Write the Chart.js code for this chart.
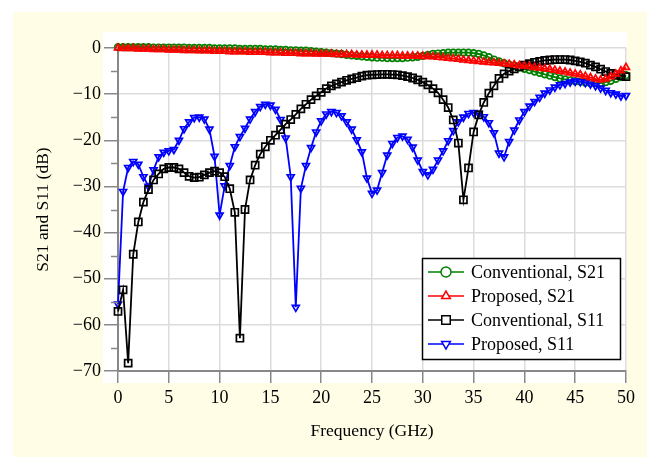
<!DOCTYPE html>
<html>
<head>
<meta charset="utf-8">
<script src="https://cdn.jsdelivr.net/npm/chart.js@4.4.0/dist/chart.umd.min.js"></script>
<style>
  html, body { margin: 0; padding: 0; background: #fff; }
  #wrap { width: 647px; height: 457px; }
</style>
</head>
<body>
<div id="wrap"><canvas id="sChart" width="647" height="457"></canvas></div>
<script>
// sweep 0 - 50 GHz, 0.5 GHz step
const freqGHz = Array.from({ length: 101 }, (_, i) => i * 0.5);

const convS21 = [
    0.2, 0.2, 0.2, 0.2, 0.2, 0.2, 0.2, 0.1, 0.1, 0.1,
    0.1, 0.1, 0.1, 0.1, 0.0, 0.0, 0.0, 0.0, 0.0, -0.1,
    -0.1, -0.1, -0.1, -0.1, -0.2, -0.2, -0.2, -0.2, -0.2, -0.3,
    -0.3, -0.3, -0.4, -0.4, -0.5, -0.5, -0.6, -0.6, -0.7, -0.8,
    -0.9, -1.0, -1.1, -1.2, -1.3, -1.5, -1.6, -1.7, -1.8, -1.9,
    -2.0, -2.1, -2.1, -2.2, -2.2, -2.2, -2.2, -2.1, -2.0, -1.9,
    -1.7, -1.5, -1.3, -1.2, -1.1, -1.0, -1.0, -1.0, -1.0, -1.0,
    -1.1, -1.3, -1.6, -2.0, -2.5, -2.9, -3.3, -3.6, -3.9, -4.2,
    -4.5, -4.8, -5.1, -5.4, -5.7, -6.0, -6.3, -6.6, -6.8, -7.0,
    -7.2, -7.3, -7.5, -7.6, -7.6, -7.6, -7.4, -7.1, -6.7, -6.3,
    -5.9
];

const propS21 = [
    0.0, -0.1, -0.1, -0.1, -0.2, -0.2, -0.2, -0.3, -0.3, -0.3,
    -0.4, -0.4, -0.4, -0.5, -0.5, -0.5, -0.6, -0.6, -0.6, -0.7,
    -0.7, -0.7, -0.8, -0.8, -0.8, -0.8, -0.9, -0.9, -0.9, -0.9,
    -1.0, -1.0, -1.0, -1.1, -1.1, -1.1, -1.2, -1.2, -1.2, -1.3,
    -1.3, -1.3, -1.3, -1.4, -1.4, -1.4, -1.4, -1.5, -1.5, -1.5,
    -1.5, -1.5, -1.6, -1.6, -1.6, -1.6, -1.7, -1.7, -1.7, -1.7,
    -1.8, -1.8, -1.9, -2.0, -2.1, -2.2, -2.3, -2.4, -2.6, -2.7,
    -2.8, -2.9, -3.0, -3.1, -3.2, -3.3, -3.4, -3.5, -3.6, -3.8,
    -3.9, -4.0, -4.2, -4.3, -4.5, -4.6, -4.8, -5.0, -5.2, -5.4,
    -5.6, -5.8, -6.1, -6.4, -6.7, -6.9, -6.7, -6.2, -5.6, -4.9,
    -4.2
];

const convS11 = [
    -57.1, -52.4, -68.3, -44.7, -37.7, -33.4, -30.7, -28.6, -27.3, -26.2,
    -25.9, -25.9, -26.2, -27.0, -27.8, -28.1, -28.0, -27.5, -27.0, -26.7,
    -27.0, -27.9, -30.5, -35.6, -62.9, -35.0, -28.6, -25.4, -23.0, -21.4,
    -20.0, -18.9, -17.7, -16.5, -15.5, -14.4, -13.2, -12.2, -11.2, -10.4,
    -9.6, -8.8, -8.2, -7.8, -7.4, -7.0, -6.7, -6.4, -6.1, -5.9,
    -5.8, -5.75, -5.7, -5.7, -5.75, -5.8, -6.0, -6.2, -6.5, -6.9,
    -7.4, -8.0, -8.8, -9.7, -11.2, -12.9, -15.6, -20.6, -32.9, -26.0,
    -18.2, -14.5, -11.8, -9.8, -8.2, -6.6, -5.6, -5.0, -4.5, -4.1,
    -3.7, -3.4, -3.1, -2.9, -2.7, -2.6, -2.5, -2.5, -2.5, -2.6,
    -2.8, -3.0, -3.3, -3.7, -4.1, -4.6, -5.1, -5.5, -5.8, -6.0,
    -6.2
];

const propS11 = [
    -55.5, -31.1, -25.9, -24.6, -25.2, -27.9, -30.0, -26.4, -23.6, -22.6,
    -22.3, -22.0, -20.0, -17.5, -16.0, -15.1, -15.0, -15.4, -17.6, -23.5,
    -36.2, -29.9, -25.5, -21.4, -19.2, -17.4, -15.4, -13.8, -12.7, -12.2,
    -12.4, -13.3, -15.5, -19.5, -27.9, -56.2, -30.4, -25.5, -21.6, -18.2,
    -15.8, -14.3, -13.8, -14.0, -14.7, -16.0, -17.6, -19.9, -22.5, -28.2,
    -31.5, -30.8, -27.0, -23.2, -20.7, -19.4, -19.1, -19.8, -21.5, -24.3,
    -26.8, -27.5, -26.3, -24.3, -22.3, -20.1, -17.9, -16.0, -15.0, -14.2,
    -14.0, -14.2, -14.9, -16.2, -18.4, -22.8, -23.6, -20.3, -17.8, -15.6,
    -13.8, -12.6, -11.6, -10.7, -9.8, -9.1, -8.5, -8.0, -7.7, -7.4,
    -7.2, -7.3, -7.5, -7.8, -8.2, -8.7, -9.2, -9.7, -10.0, -10.4,
    -10.3
];

const yTicks = [0, -10, -20, -30, -40, -50, -60, -70];
const xTicks = [0, 5, 10, 15, 20, 25, 30, 35, 40, 45, 50];

const serif = '"Liberation Serif", "Times New Roman", serif';

function pts(values) {
    return values.map((v, i) => ({ x: freqGHz[i], y: v }));
}

function series(label, values, color, style, radius, rotation, order) {
    return {
        label: label,
        data: pts(values),
        borderColor: color,
        backgroundColor: 'rgba(255,255,255,0)',
        borderWidth: 1.8,
        pointStyle: style,
        pointRadius: radius,
        pointRotation: rotation,
        pointBorderColor: color,
        pointBorderWidth: 1.7,
        pointBackgroundColor: 'rgba(255,255,255,0)',
        tension: 0,
        fill: false,
        clip: 10,
        order: order
    };
}

const panelPlugin = {
    id: 'panel',
    beforeDraw(chart) {
        const { ctx, chartArea: a } = chart;
        ctx.save();
        ctx.fillStyle = '#ffffff';
        ctx.fillRect(0, 0, chart.width, chart.height);
        ctx.fillStyle = '#fffde6';
        ctx.fillRect(13, 12, chart.width - 13, chart.height - 12);
        ctx.fillStyle = '#ffffff';
        ctx.fillRect(a.left - 15, a.top - 16, a.right - a.left + 16, a.bottom - a.top + 28);
        ctx.restore();
    },
    afterDraw(chart) {
        const { ctx } = chart;
        const y = chart.scales.y;
        const a = chart.chartArea;
        // minor ticks on the y axis
        ctx.save();
        ctx.strokeStyle = '#888';
        ctx.lineWidth = 1.5;
        for (let v = -5; v > -70; v -= 10) {
            const py = Math.round(y.getPixelForValue(v)) + 0.5;
            ctx.beginPath();
            ctx.moveTo(a.left - 7, py);
            ctx.lineTo(a.left, py);
            ctx.stroke();
        }
        ctx.restore();

        // legend box
        const lx = 422, ly = 258, lw = 198, lh = 101;
        ctx.save();
        ctx.fillStyle = '#fff';
        ctx.fillRect(lx, ly, lw, lh);
        ctx.strokeStyle = '#000';
        ctx.lineWidth = 1.5;
        ctx.strokeRect(lx + 0.5, ly + 0.5, lw, lh);
        ctx.font = '18px ' + serif;
        ctx.textBaseline = 'middle';
        ctx.textAlign = 'left';
        chart.data.datasets.forEach((ds, i) => {
            const ry = ly + 14 + i * 24;
            ctx.strokeStyle = ds.borderColor;
            ctx.lineWidth = 1.5;
            ctx.beginPath();
            ctx.moveTo(lx + 6, ry);
            ctx.lineTo(lx + 42, ry);
            ctx.stroke();
            ctx.fillStyle = '#fff';
            Chart.helpers.drawPoint(ctx, {
                pointStyle: ds.pointStyle,
                rotation: ds.pointRotation,
                radius: ds.pointStyle === 'rect' ? 6 : 5,
                borderWidth: 1.5
            }, lx + 24, ry);
            ctx.fillStyle = '#000';
            ctx.fillText(ds.label, lx + 49, ry + 1);
        });
        ctx.restore();
    }
};

const ctxS = document.getElementById('sChart').getContext('2d');
const sChart = new Chart(ctxS, {
    type: 'line',
    data: {
        datasets: [
            series('Conventional, S21', convS21, '#008000', 'circle', 3.3, 0, 4),
            series('Proposed, S21', propS21, '#ff0000', 'triangle', 4, 0, 1),
            series('Conventional, S11', convS11, '#000000', 'rect', 5, 0, 2),
            series('Proposed, S11', propS11, '#0000ff', 'triangle', 4, 180, 3)
        ]
    },
    options: {
        responsive: false,
        animation: false,
        devicePixelRatio: 1,
        layout: { padding: { left: 0, top: 48, right: 21, bottom: 0 } },
        plugins: {
            legend: { display: false },
            tooltip: { enabled: false }
        },
        scales: {
            x: {
                type: 'linear',
                min: 0,
                max: 50,
                afterFit: (s) => { s.height = 86; },
                afterBuildTicks: (s) => { s.ticks = xTicks.map(v => ({ value: v })); },
                ticks: {
                    color: '#000',
                    padding: 4,
                    maxRotation: 0,
                    font: { family: serif, size: 18 }
                },
                grid: {
                    color: '#dcdcdc',
                    lineWidth: 1.5,
                    tickColor: '#888',
                    tickLength: 12,
                    tickWidth: 1.5
                },
                border: { color: '#888', width: 2 },
                title: {
                    display: true,
                    text: 'Frequency (GHz)',
                    color: '#000',
                    font: { family: serif, size: 17.5 },
                    padding: { top: 0, bottom: 15 }
                }
            },
            y: {
                type: 'linear',
                min: -70,
                max: 0,
                afterFit: (s) => { s.width = 118; },
                afterBuildTicks: (s) => { s.ticks = yTicks.map(v => ({ value: v })); },
                ticks: {
                    color: '#000',
                    padding: 3,
                    font: { family: serif, size: 18 },
                    callback: (v) => (v < 0 ? '\u2212' + Math.abs(v) : String(v))
                },
                grid: {
                    color: '#dcdcdc',
                    lineWidth: 1.5,
                    tickColor: '#888',
                    tickLength: 14,
                    tickWidth: 1.5
                },
                border: { color: '#888', width: 2 },
                title: {
                    display: true,
                    text: 'S21 and S11 (dB)',
                    color: '#000',
                    font: { family: serif, size: 17.5 },
                    padding: { top: 33, bottom: 0 }
                }
            }
        }
    },
    plugins: [panelPlugin]
});
</script>
</body>
</html>
